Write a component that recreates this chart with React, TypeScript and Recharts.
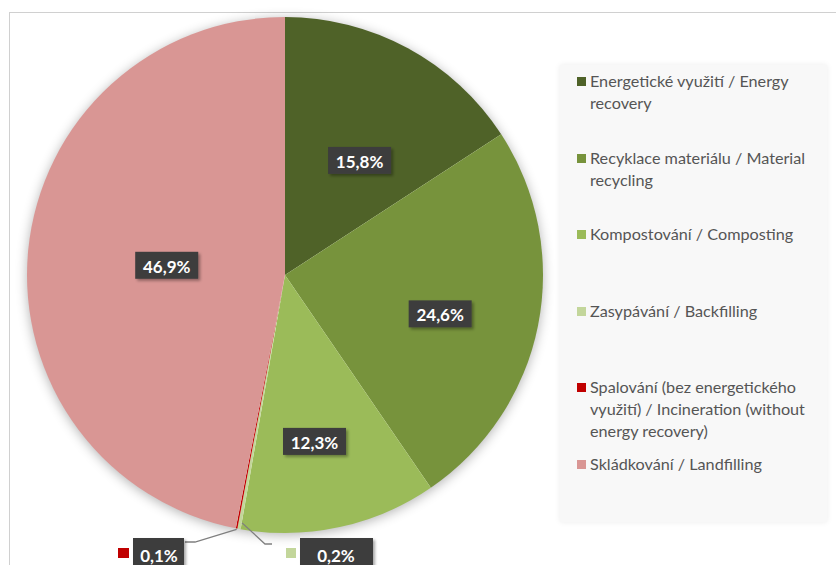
import React from 'react';
import { PieChart, Pie, Cell } from 'recharts';

const CATEGORIES = [
  'Energetické využití / Energy recovery',
  'Recyklace materiálu / Material recycling',
  'Kompostování / Composting',
  'Zasypávání / Backfilling',
  'Spalování (bez energetického využití) / Incineration (without energy recovery)',
  'Skládkování / Landfilling',
];
const VALUES = [15.8, 24.6, 12.3, 0.2, 0.1, 46.9];
const COLORS = ['#4f6228', '#77933c', '#9bbb59', '#c3d69b', '#c00000', '#d99694'];
const LEGEND_LINES = [
  ['Energetické využití / Energy', 'recovery'],
  ['Recyklace materiálu / Material', 'recycling'],
  ['Kompostování / Composting'],
  ['Zasypávání / Backfilling'],
  ['Spalování (bez energetického', 'využití) / Incineration (without', 'energy recovery)'],
  ['Skládkování / Landfilling'],
];

const data = CATEGORIES.map((name, i) => ({ name, value: VALUES[i] }));

// label layout: radial fraction and clockwise angle nudge (deg)
const LABEL_LAYOUT = [
  { f: 0.53, da: 4.6 },
  { f: 0.62, da: 2.8 },
  { f: 0.655, da: 2.2 },
  { f: 0, da: 0 },
  { f: 0, da: 0 },
  { f: 0.46, da: -0.8 },
];

const RAD = Math.PI / 180;
const FONT = 'Lato, "Open Sans", sans-serif';
const fmt = (v: number) => v.toFixed(1).replace('.', ',') + '%';

const BOX_FILL = '#3d3d3d';
const PIE_CX = 285;
const PIE_CY = 275;
const PIE_R = 258;

function renderLabel(props: any) {
  const { cx, cy, midAngle, outerRadius, index, value } = props;
  const text = fmt(value);
  if (index === 3 || index === 4) {
    const ex = cx + outerRadius * Math.cos(-midAngle * RAD);
    const ey = cy + outerRadius * Math.sin(-midAngle * RAD);
    if (index === 3) {
      const elbowX = cx - 20, elbowY = cy + 269;
      return (
        <g>
          <polyline points={`${ex + 3},${ey - 6} ${elbowX},${elbowY} ${cx - 13},${elbowY}`} fill="none" stroke="#7f7f7f" strokeWidth={1.3} />
          <rect x={cx + 1} y={cy + 273} width={10} height={10} fill={COLORS[3]} />
          <rect x={cx + 15} y={cy + 263} width={73} height={33} fill={BOX_FILL} filter="url(#boxShadow)" />
          <text x={cx + 51} y={cy + 280} fill="#fff" fontFamily={FONT} fontWeight={700} fontSize={17} textAnchor="middle" dominantBaseline="central">{text}</text>
        </g>
      );
    }
    const elbowX = cx - 90, elbowY = cy + 267;
    return (
      <g>
        <polyline points={`${ex},${ey + 1} ${elbowX},${elbowY} ${cx - 100},${elbowY}`} fill="none" stroke="#7f7f7f" strokeWidth={1.3} />
        <rect x={cx - 167} y={cy + 273} width={11} height={10} fill={COLORS[4]} />
        <rect x={cx - 152} y={cy + 263} width={51} height={33} fill={BOX_FILL} filter="url(#boxShadow)" />
        <text x={cx - 126} y={cy + 280} fill="#fff" fontFamily={FONT} fontWeight={700} fontSize={17} textAnchor="middle" dominantBaseline="central">{text}</text>
      </g>
    );
  }
  const { f, da } = LABEL_LAYOUT[index];
  const r = outerRadius * f;
  const a = (midAngle - da) * RAD;
  const x = cx + r * Math.cos(-a);
  const y = cy + r * Math.sin(-a);
  const w = 63, h = 27;
  return (
    <g>
      <rect x={x - w / 2} y={y - h / 2} width={w} height={h} fill={BOX_FILL} filter="url(#boxShadow)" />
      <text x={x} y={y + 1} fill="#fff" fontFamily={FONT} fontWeight={700} fontSize={17} textAnchor="middle" dominantBaseline="central">{text}</text>
    </g>
  );
}

export default function App() {
  return (
    <div style={{ position: 'absolute', left: 0, top: 0, width: 836, height: 565, overflow: 'hidden', background: '#fff', fontFamily: FONT }}>
      <svg width={0} height={0} style={{ position: 'absolute' }}>
        <defs>
          <filter id="boxShadow" x="-20%" y="-30%" width="150%" height="170%">
            <feGaussianBlur in="SourceAlpha" stdDeviation={1.5} />
            <feOffset dx={1.5} dy={2} />
            <feComponentTransfer>
              <feFuncA type="linear" slope={0.35} />
            </feComponentTransfer>
            <feMerge>
              <feMergeNode />
              <feMergeNode in="SourceGraphic" />
            </feMerge>
          </filter>
        </defs>
      </svg>
      <div style={{ position: 'absolute', left: 9, top: 12, width: 900, height: 700, border: '1.5px solid #d0d0d0', boxSizing: 'border-box' }} />
      <div style={{ position: 'absolute', left: 560, top: 65, width: 267, height: 457, background: '#f8f8f8', boxShadow: '0 0 6px rgba(0,0,0,0.08)' }}>
        {LEGEND_LINES.map((lines, i) => (
          <div key={i} style={{ position: 'absolute', left: 0, top: 5 + i * 76.5, width: 267 }}>
            <div style={{ position: 'absolute', left: 17, top: 7, width: 9, height: 9, background: COLORS[i] }} />
            <div style={{ position: 'absolute', left: 30, top: 0, color: '#555555', fontSize: 16.2, lineHeight: '22px', whiteSpace: 'nowrap' }}>
              {lines.map((l, j) => <div key={j}>{l}</div>)}
            </div>
          </div>
        ))}
      </div>
      <div style={{ position: 'absolute', left: PIE_CX - PIE_R + 1, top: PIE_CY - PIE_R + 1, width: PIE_R * 2 - 2, height: PIE_R * 2 - 2, borderRadius: '50%', boxShadow: '0 2px 12px 1px rgba(0,0,0,0.3)' }} />
      <div style={{ position: 'absolute', left: 0, top: 0 }}>
        <PieChart width={836} height={565} margin={{ top: 0, right: 0, bottom: 0, left: 0 }}>
          <Pie
            data={data}
            dataKey="value"
            nameKey="name"
            cx={PIE_CX}
            cy={PIE_CY}
            outerRadius={PIE_R}
            startAngle={90}
            endAngle={-270}
            stroke="none"
            label={renderLabel}
            labelLine={false}
            isAnimationActive={false}
          >
            {data.map((d, i) => <Cell key={d.name} fill={COLORS[i]} />)}
          </Pie>
        </PieChart>
      </div>
    </div>
  );
}
